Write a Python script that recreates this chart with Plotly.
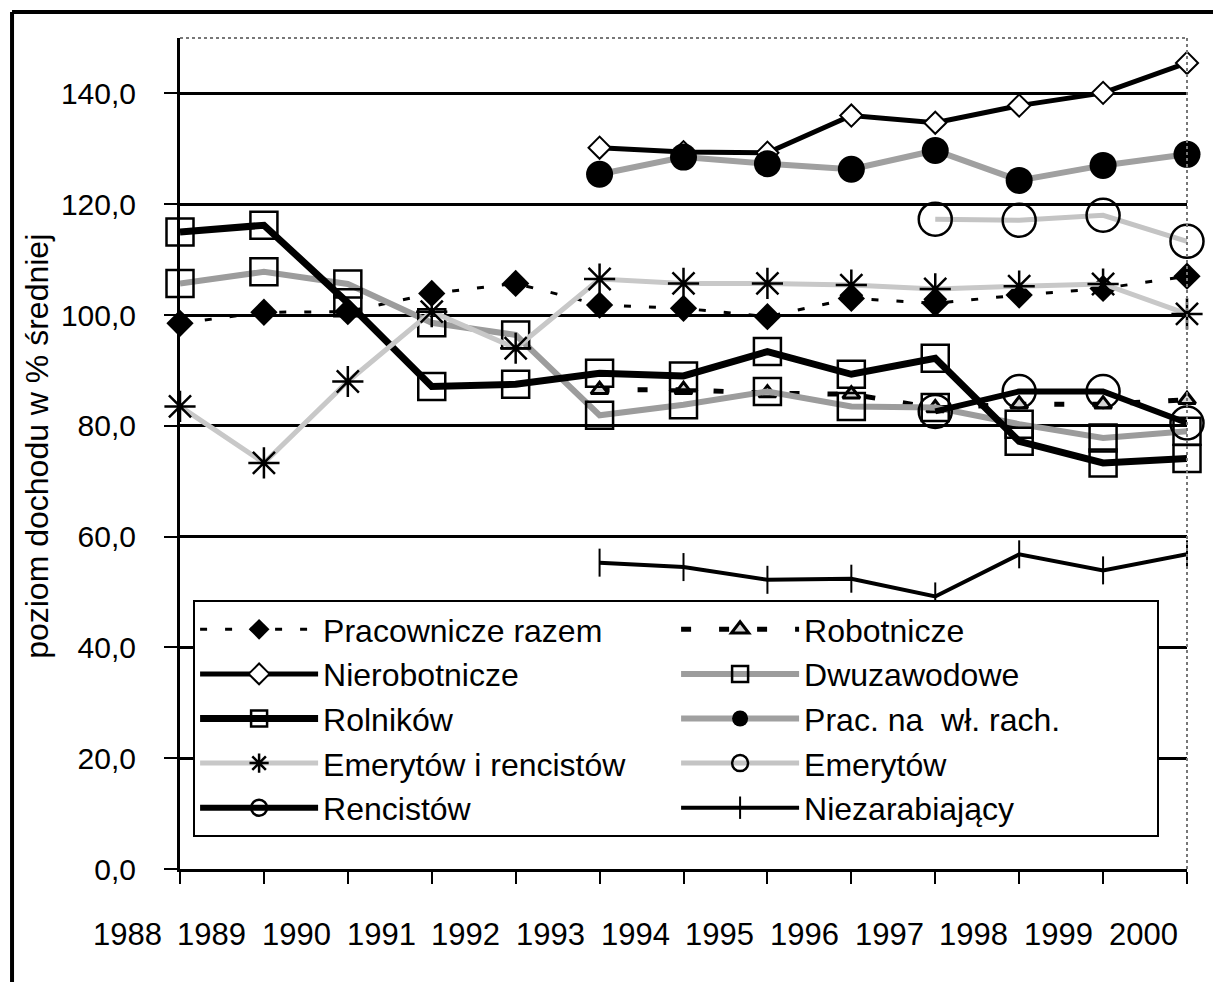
import plotly.graph_objects as go

years = [str(y) for y in range(1988, 2001)]
x_all = list(range(13))
x_93 = list(range(5, 13))
x_97 = list(range(9, 13))

pracownicze_razem = [98.5, 100.5, 100.6, 103.9, 105.7, 101.8, 101.2, 99.7, 103.0, 102.1, 103.6, 104.8, 107.0]
robotnicze = [86.5, 86.5, 85.9, 85.7, 83.2, 83.9, 83.9, 84.7]
nierobotnicze = [130.2, 129.4, 129.3, 136.0, 134.7, 137.8, 140.1, 145.5]
dwuzawodowe = [105.7, 107.8, 105.6, 98.6, 96.4, 81.9, 83.8, 86.2, 83.5, 83.3, 80.3, 77.8, 79.0]
rolnikow = [115.0, 116.2, 102.2, 87.1, 87.5, 89.5, 89.0, 93.4, 89.3, 92.2, 77.2, 73.3, 74.1]
prac_wl_rach = [125.4, 128.5, 127.3, 126.3, 129.7, 124.3, 127.0, 129.0]
emer_i_renc = [83.5, 73.3, 88.0, 100.6, 94.0, 106.5, 105.7, 105.7, 105.4, 104.7, 105.2, 105.6, 100.2]
emerytow = [117.3, 117.1, 118.0, 113.3]
rencistow = [82.6, 86.2, 86.2, 80.5]
niezarabiajacy = [55.3, 54.5, 52.2, 52.4, 49.2, 56.8, 53.9, 56.8]

y_ticks = [0, 20, 40, 60, 80, 100, 120, 140]

FONT = "Liberation Sans, Arial, sans-serif"

fig = go.Figure()

def add(name, x, y, line, marker):
    fig.add_trace(go.Scatter(x=x, y=y, name=name, mode="lines+markers",
                             line=line, marker=marker, cliponaxis=False))

add("Pracownicze razem", x_all, pracownicze_razem,
    dict(color="black", width=3, dash="7px,18px"),
    dict(symbol="diamond", size=21, color="black"))
add("Robotnicze", x_93, robotnicze,
    dict(color="black", width=5, dash="10px,28px"),
    dict(symbol="triangle-up", size=15, color="#d4d4d4", line=dict(color="black", width=3)))
add("Nierobotnicze", x_93, nierobotnicze,
    dict(color="black", width=5),
    dict(symbol="diamond", size=17, color="white", line=dict(color="black", width=2)))
add("Dwuzawodowe", x_all, dwuzawodowe,
    dict(color="#9c9c9c", width=6),
    dict(symbol="square-open", size=27, color="black", line=dict(width=2.5)))
add("Rolników", x_all, rolnikow,
    dict(color="black", width=7),
    dict(symbol="square-open", size=27, color="black", line=dict(width=2.5)))
add("Prac. na  wł. rach.", x_93, prac_wl_rach,
    dict(color="#a0a0a0", width=6),
    dict(symbol="circle", size=27, color="black"))
add("Emerytów i rencistów", x_all, emer_i_renc,
    dict(color="#c8c8c8", width=5),
    dict(symbol="asterisk-open", size=26, color="black", line=dict(width=2.5)))
add("Emerytów", x_97, emerytow,
    dict(color="#c4c4c4", width=5),
    dict(symbol="circle-open", size=33, color="black", line=dict(width=2.5)))
add("Rencistów", x_97, rencistow,
    dict(color="black", width=6),
    dict(symbol="circle-open", size=33, color="black", line=dict(width=2.5)))
add("Niezarabiający", x_93, niezarabiajacy,
    dict(color="black", width=4),
    dict(symbol="line-ns-open", size=20, color="black", line=dict(width=2)))

# year labels (offset from the ticks as in the original), placed in paper units
annotations = []
for i, yr in enumerate(years):
    annotations.append(dict(x=(-0.63 + i * 1.009) / 12.0, y=-0.0794, xref="paper", yref="paper",
                            text=yr, showarrow=False, xanchor="center", yanchor="middle",
                            font=dict(family=FONT, size=31, color="black")))
annotations.append(dict(x=-0.142, y=0.508, xref="paper", yref="paper",
                        text="poziom dochodu w % średniej", textangle=-90, showarrow=False,
                        xanchor="center", yanchor="middle",
                        font=dict(family=FONT, size=32, color="black")))

shapes = [
    # outer frame (top and left)
    dict(type="line", xref="paper", yref="paper", x0=-0.1668, x1=1.04, y0=1.0313, y1=1.0313,
         line=dict(color="black", width=4)),
    dict(type="line", xref="paper", yref="paper", x0=-0.1668, x1=-0.1668, y0=1.0313, y1=-0.15,
         line=dict(color="black", width=4)),
    # plot area top and right edges (dotted grey)
    dict(type="line", xref="paper", yref="paper", x0=0, x1=1, y0=1, y1=1,
         line=dict(color="#777777", width=2, dash="dot")),
    dict(type="line", xref="paper", yref="paper", x0=1, x1=1, y0=0, y1=1,
         line=dict(color="#777777", width=2, dash="dot")),
]

fig.update_layout(
    width=1213, height=974,
    margin=dict(l=172, r=34, t=30, b=113),
    paper_bgcolor="white", plot_bgcolor="white",
    separators=", ",
    font=dict(family=FONT, size=30, color="black"),
    showlegend=True,
    legend=dict(orientation="h", x=0.013, y=0.3237, xanchor="left", yanchor="top",
                bgcolor="white", bordercolor="black", borderwidth=2,
                itemwidth=118, entrywidth=348, entrywidthmode="pixels",
                font=dict(family=FONT, size=32, color="black"),
                traceorder="normal", itemsizing="trace"),
    annotations=annotations,
    shapes=shapes,
    xaxis=dict(range=[0, 12], tickvals=x_all, showticklabels=False, ticks="outside",
               ticklen=12, tickwidth=2, tickcolor="black", showgrid=False,
               showline=True, linecolor="black", linewidth=3, zeroline=False),
    yaxis=dict(range=[0, 150], tickvals=y_ticks, tickformat=".1f", ticks="outside",
               ticklen=13, tickwidth=2, tickcolor="black", showgrid=True,
               gridcolor="black", gridwidth=2.5, showline=True, linecolor="black",
               linewidth=3, zeroline=False, ticklabelstandoff=22,
               tickfont=dict(family=FONT, size=30, color="black")),
)

fig.write_html("out.html")
